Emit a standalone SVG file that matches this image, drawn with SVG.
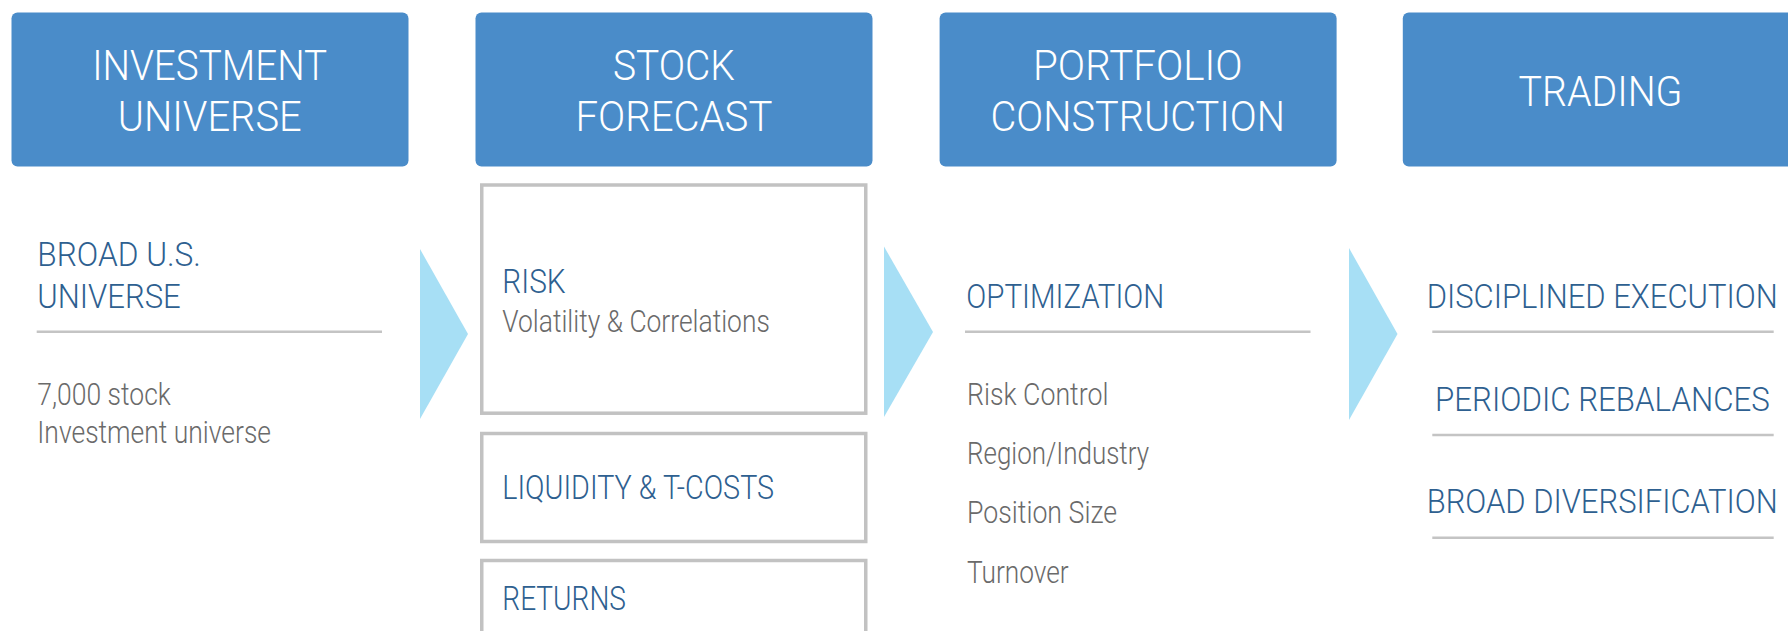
<svg xmlns="http://www.w3.org/2000/svg" width="1788" height="631" viewBox="0 0 1788 631">
<style>
.hdr{fill:#4a8cc9}
.ht{font-family:Roboto,"Liberation Sans",sans-serif;font-weight:300;font-size:42px;fill:#ffffff;text-anchor:middle}
.bt{font-family:Roboto,"Liberation Sans",sans-serif;font-weight:300;font-size:34px;fill:#2e6090}
.gt{font-family:Roboto,"Liberation Sans",sans-serif;font-weight:300;font-size:32px;fill:#6a6a6a}
.mid{text-anchor:middle}
.rule{stroke:#c4c4c4;stroke-width:2.5;fill:none}
.card{fill:#ffffff;stroke:#c2c2c2;stroke-width:3.5}
.chev{fill:#a7dff5}
</style>
<rect width="1788" height="631" fill="#ffffff"/>

<g id="connectors">
<polygon class="chev" points="420,249 468,334 420,419"/>
<polygon class="chev" points="884,246.5 933,332 884,417"/>
<polygon class="chev" points="1349,248 1397.5,334 1349,420"/>
</g>

<g id="investment-universe">
<rect class="hdr" x="11.5" y="12.5" width="397" height="154" rx="6"/>
<text class="ht" x="209.7" y="80" textLength="235" lengthAdjust="spacingAndGlyphs">INVESTMENT</text>
<text class="ht" x="209.7" y="131" textLength="184" lengthAdjust="spacingAndGlyphs">UNIVERSE</text>
</g>

<g id="stock-forecast">
<rect class="hdr" x="475.5" y="12.5" width="397" height="154" rx="6"/>
<text class="ht" x="673.9" y="80" textLength="122" lengthAdjust="spacingAndGlyphs">STOCK</text>
<text class="ht" x="673.9" y="131" textLength="197" lengthAdjust="spacingAndGlyphs">FORECAST</text>
</g>

<g id="portfolio-construction">
<rect class="hdr" x="939.6" y="12.5" width="397" height="154" rx="6"/>
<text class="ht" x="1137.8" y="80" textLength="209.5" lengthAdjust="spacingAndGlyphs">PORTFOLIO</text>
<text class="ht" x="1137.8" y="131" textLength="294.5" lengthAdjust="spacingAndGlyphs">CONSTRUCTION</text>
</g>

<g id="trading">
<rect class="hdr" x="1402.8" y="12.5" width="397" height="154" rx="6"/>
<text class="ht" x="1600.5" y="106" textLength="164" lengthAdjust="spacingAndGlyphs">TRADING</text>
</g>

<g id="broad-us-universe">
<text class="bt" x="37.3" y="266" textLength="163.6" lengthAdjust="spacingAndGlyphs">BROAD U.S.</text>
<text class="bt" x="37.3" y="308" textLength="143.5" lengthAdjust="spacingAndGlyphs">UNIVERSE</text>
<line class="rule" x1="36.7" y1="331.7" x2="382" y2="331.7"/>
<text class="gt" x="37.3" y="405" textLength="133.5" lengthAdjust="spacingAndGlyphs">7,000 stock</text>
<text class="gt" x="37.3" y="443" textLength="233.7" lengthAdjust="spacingAndGlyphs">Investment universe</text>
</g>

<g id="risk">
<rect class="card" x="481.75" y="185" width="384" height="228.2"/>
<text class="bt" x="502.3" y="292.7" textLength="63.4" lengthAdjust="spacingAndGlyphs">RISK</text>
<text class="gt" x="502.3" y="331.7" textLength="267.5" lengthAdjust="spacingAndGlyphs">Volatility &amp; Correlations</text>
</g>

<g id="liquidity">
<rect class="card" x="481.75" y="433.5" width="384" height="108"/>
<text class="bt" x="502.3" y="499.3" textLength="271.8" lengthAdjust="spacingAndGlyphs">LIQUIDITY &amp; T-COSTS</text>
</g>

<g id="returns">
<rect class="card" x="481.75" y="560.5" width="384" height="120"/>
<text class="bt" x="502.3" y="610" textLength="123.7" lengthAdjust="spacingAndGlyphs">RETURNS</text>
</g>

<g id="optimization">
<text class="bt" x="966.3" y="308.3" textLength="198" lengthAdjust="spacingAndGlyphs">OPTIMIZATION</text>
<line class="rule" x1="965" y1="331.7" x2="1310.5" y2="331.7"/>
<text class="gt" x="967" y="405.3" textLength="141.4" lengthAdjust="spacingAndGlyphs">Risk Control</text>
<text class="gt" x="967" y="464.3" textLength="182" lengthAdjust="spacingAndGlyphs">Region/Industry</text>
<text class="gt" x="967" y="523.3" textLength="150" lengthAdjust="spacingAndGlyphs">Position Size</text>
<text class="gt" x="967" y="583.3" textLength="101.7" lengthAdjust="spacingAndGlyphs">Turnover</text>
</g>

<g id="trading-items">
<text class="bt mid" x="1602.2" y="308.3" textLength="351" lengthAdjust="spacingAndGlyphs">DISCIPLINED EXECUTION</text>
<line class="rule" x1="1432.3" y1="331.7" x2="1773.7" y2="331.7"/>
<text class="bt mid" x="1602.4" y="410.7" textLength="334.8" lengthAdjust="spacingAndGlyphs">PERIODIC REBALANCES</text>
<line class="rule" x1="1432.3" y1="435" x2="1773.7" y2="435"/>
<text class="bt mid" x="1602.2" y="513.3" textLength="351" lengthAdjust="spacingAndGlyphs">BROAD DIVERSIFICATION</text>
<line class="rule" x1="1432.3" y1="537.7" x2="1773.7" y2="537.7"/>
</g>
</svg>
